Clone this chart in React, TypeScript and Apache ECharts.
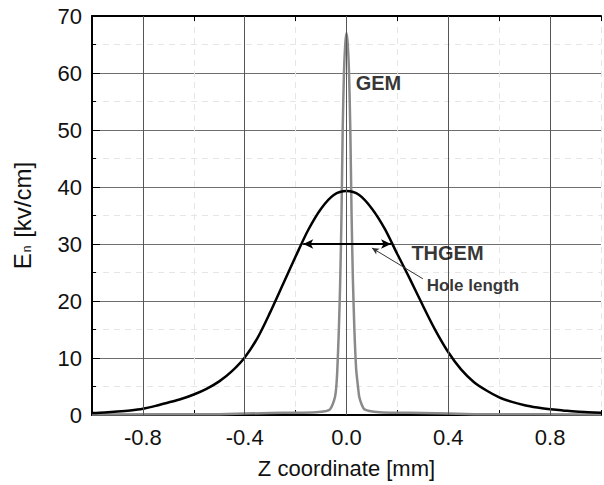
import React, { useEffect, useRef } from "react";
import * as echarts from "echarts";

// Axial field profile E_n along the hole axis, GEM vs THGEM
const gemZ = [-1.0, -0.5, -0.3, -0.2, -0.12, -0.08, -0.065, -0.055, -0.045, -0.04, -0.036, -0.03, -0.025, -0.02, -0.015, -0.01, -0.005, 0, 0.005, 0.01, 0.015, 0.02, 0.025, 0.031, 0.038, 0.045, 0.05, 0.06, 0.07, 0.09, 0.13, 0.2, 0.3, 0.5, 1.0];
const gemE = [0.1, 0.15, 0.35, 0.4, 0.5, 0.7, 1.0, 1.8, 3.2, 5.0, 8.0, 15, 23, 34, 50, 60, 65, 67, 65, 60, 50, 35, 24, 15, 8.0, 5.0, 3.2, 1.8, 1.0, 0.7, 0.5, 0.4, 0.35, 0.15, 0.1];

const thgemZ = [-1.0, -0.95, -0.9, -0.85, -0.8, -0.75, -0.7, -0.65, -0.6, -0.55, -0.5, -0.45, -0.4, -0.35, -0.3, -0.25, -0.2, -0.15, -0.1, -0.05, 0, 0.05, 0.1, 0.15, 0.2, 0.25, 0.3, 0.35, 0.4, 0.45, 0.5, 0.55, 0.6, 0.65, 0.7, 0.75, 0.8, 0.85, 0.9, 0.95, 1.0];
const thgemE = [0.35, 0.45, 0.6, 0.8, 1.1, 1.6, 2.2, 2.8, 3.6, 4.6, 5.9, 7.7, 10.1, 13.5, 18.0, 22.9, 27.8, 32.5, 36.2, 38.6, 39.3, 38.6, 36.2, 32.7, 28.2, 23.8, 19.2, 14.8, 11.0, 8.0, 5.8, 4.3, 3.1, 2.3, 1.7, 1.3, 1.0, 0.8, 0.6, 0.5, 0.4];

// Labelled (major) z ticks and the hole-length extent at 30 kV/cm
const majorZ = [-0.8, -0.4, 0, 0.4, 0.8];
const holeLength = [-0.17, 0.175];
const holeLevel = 30;

const FONT = "'Liberation Sans', Arial, Helvetica, sans-serif";

export default function App() {
  const ref = useRef<HTMLDivElement>(null);

  useEffect(() => {
    if (!ref.current) return;
    const chart = echarts.init(ref.current, undefined, { renderer: "svg" });

    const gemData = gemZ.map((z, i) => [z, gemE[i]]);
    const thgemData = thgemZ.map((z, i) => [z, thgemE[i]]);

    const option: echarts.EChartsOption = {
      animation: false,
      backgroundColor: "#ffffff",
      textStyle: { fontFamily: FONT },
      grid: { left: 92, top: 16, right: -8, bottom: 70 },
      xAxis: [
        {
          type: "value",
          min: -1,
          max: 1,
          interval: 0.2,
          position: "bottom",
          name: "Z coordinate [mm]",
          nameLocation: "middle",
          nameGap: 42,
          nameTextStyle: { fontSize: 22, color: "#111", fontFamily: FONT },
          axisLine: { show: true, onZero: false, lineStyle: { color: "#000", width: 2 } },
          axisTick: { show: true, inside: true, length: 5, lineStyle: { color: "#000" } },
          axisLabel: {
            fontSize: 22,
            color: "#111",
            margin: 11,
            fontFamily: FONT,
            formatter: (v: number) => {
              const k = Math.round(v / 0.2);
              return k % 2 === 0 ? v.toFixed(1) : "";
            },
          },
          splitLine: { show: true, lineStyle: { color: "#e6e6e6", type: [6, 5], width: 1 } },
        },
        {
          type: "value",
          min: -1,
          max: 1,
          interval: 0.2,
          position: "top",
          axisLine: { show: true, onZero: false, lineStyle: { color: "#000", width: 2 } },
          axisTick: { show: true, inside: true, length: 5, lineStyle: { color: "#000" } },
          axisLabel: { show: false },
          splitLine: { show: false },
        },
      ],
      yAxis: {
        type: "value",
        min: 0,
        max: 70,
        interval: 10,
        name: "{e|E}{s|n}{e| [kv/cm]}",
        nameLocation: "middle",
        nameRotate: 90,
        nameGap: 58,
        nameTextStyle: {
          rich: {
            e: { fontSize: 24, color: "#111", fontFamily: FONT },
            s: { fontSize: 12, color: "#111", fontFamily: FONT, padding: [10, 1, 0, 1] },
          },
        },
        axisLine: { show: true, onZero: false, lineStyle: { color: "#000", width: 2 } },
        axisTick: { show: true, inside: true, length: 8, lineStyle: { color: "#000" } },
        minorTick: { show: true, splitNumber: 2, length: 4, lineStyle: { color: "#000" } },
        axisLabel: { fontSize: 22, color: "#111", margin: 10, fontFamily: FONT },
        splitLine: { show: true, lineStyle: { color: "#6e6e6e", width: 1 } },
        minorSplitLine: { show: true, lineStyle: { color: "#e6e6e6", type: [6, 5], width: 1 } },
      },
      series: [
        {
          // major vertical grid lines at the labelled z ticks
          type: "line",
          data: [],
          z: 1,
          silent: true,
          markLine: {
            silent: true,
            symbol: ["none", "none"],
            label: { show: false },
            lineStyle: { color: "#555", width: 1, type: "solid" },
            data: majorZ.map((z) => ({ xAxis: z })),
          },
        },
        {
          name: "GEM",
          type: "line",
          data: gemData,
          showSymbol: false,
          smooth: 0.2,
          z: 3,
          lineStyle: { color: "#8a8a8a", width: 2.5 },
        },
        {
          name: "THGEM",
          type: "line",
          data: thgemData,
          showSymbol: false,
          smooth: 0.3,
          z: 4,
          lineStyle: { color: "#000", width: 2.5 },
          markLine: {
            silent: true,
            label: { show: false },
            lineStyle: { color: "#000", width: 2, type: "solid" },
            data: [
              [
                { coord: [holeLength[0], holeLevel], symbol: "arrow", symbolSize: [7, 10] },
                { coord: [holeLength[1], holeLevel], symbol: "arrow", symbolSize: [7, 10] },
              ],
              [
                { coord: [0.3, 23.9], symbol: "none", lineStyle: { width: 1, color: "#333" } },
                { coord: [0.1, 29.3], symbol: "arrow", symbolSize: [5, 7], lineStyle: { width: 1, color: "#333" } },
              ],
            ],
          },
        },
        {
          // text annotations
          type: "scatter",
          symbolSize: 0,
          z: 5,
          silent: true,
          data: [
            {
              value: [0.036, 58.2],
              label: { formatter: "GEM", fontSize: 20, fontWeight: "bold" },
            },
            {
              value: [0.255, 28.4],
              label: { formatter: "THGEM", fontSize: 20, fontWeight: "bold" },
            },
            {
              value: [0.315, 22.8],
              label: { formatter: "Hole length", fontSize: 17, fontWeight: "bold" },
            },
          ],
          label: {
            show: true,
            position: [0, 0],
            align: "left",
            verticalAlign: "middle",
            color: "#000",
            fontFamily: FONT,
          },
        },
      ],
    };

    chart.setOption(option);
    return () => chart.dispose();
  }, []);

  return (
    <div
      ref={ref}
      style={{ position: "fixed", left: 0, top: 0, width: 604, height: 485, background: "#fff" }}
    />
  );
}
